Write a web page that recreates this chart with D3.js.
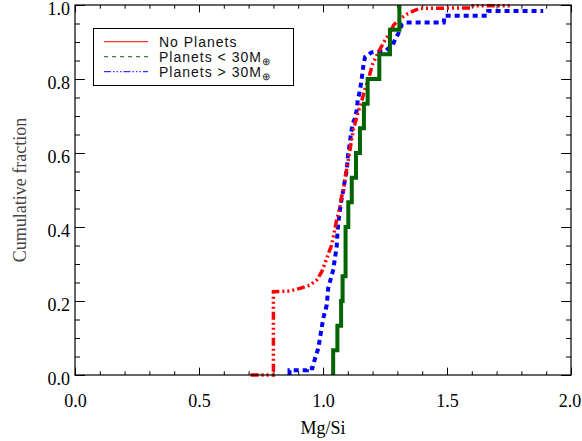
<!DOCTYPE html>
<html><head><meta charset="utf-8">
<script src="https://cdn.jsdelivr.net/npm/d3@7"></script>
<style>body{margin:0;background:#fff}</style>
</head><body><svg id="c" width="582" height="441"></svg>
<script>
// ---- data ----
const xTickValues = [0.0, 0.5, 1.0, 1.5, 2.0];
const xMinorTicks = [0.1,0.2,0.3,0.4,0.6,0.7,0.8,0.9,1.1,1.2,1.3,1.4,1.6,1.7,1.8,1.9];
const yTickValues = [0.0, 0.2, 0.4, 0.6, 0.8, 1.0];
const yMinorTicks = [0.05,0.1,0.15,0.25,0.3,0.35,0.45,0.5,0.55,0.65,0.7,0.75,0.85,0.9,0.95];
const legendLabels = ["No Planets", "Planets < 30M", "Planets > 30M"];
const xTitle = "Mg/Si";
const yTitle = "Cumulative fraction";

// No planets (red) – traced cumulative curve
const noPlanetsMgSi = [0.708,0.80,0.80,0.867,0.907,0.948,0.975,0.995,1.008,1.021,1.035,1.042,1.048,1.055,1.062,1.069,1.075,1.082,1.089,1.102,1.113,1.122,1.133,1.142,1.153,1.168,1.185,1.20,1.225,1.25,1.27,1.285,1.31,1.338,1.365,1.39,1.60,1.605,1.755];
const noPlanetsFrac = [0,0,0.225,0.227,0.234,0.243,0.257,0.279,0.302,0.327,0.351,0.374,0.395,0.419,0.437,0.458,0.482,0.497,0.532,0.581,0.626,0.662,0.689,0.712,0.733,0.77,0.805,0.84,0.875,0.905,0.925,0.946,0.962,0.975,0.984,0.991,0.992,0.998,0.998];

// Planets > 30 M_earth (blue) – traced cumulative curve
const bigPlanetsMgSi = [0.865,0.865,0.935,0.935,0.957,0.968,0.981,0.991,1.001,1.015,1.021,1.028,1.042,1.048,1.055,1.059,1.065,1.073,1.082,1.087,1.096,1.10,1.106,1.113,1.12,1.129,1.136,1.14,1.148,1.156,1.164,1.17,1.196,1.25,1.28,1.29,1.304,1.317,1.337,1.487,1.49,1.663,1.666,1.888];
const bigPlanetsFrac = [0,0.013,0.013,0.018,0.018,0.045,0.072,0.113,0.153,0.189,0.235,0.252,0.286,0.315,0.345,0.392,0.428,0.468,0.5,0.522,0.554,0.59,0.617,0.653,0.68,0.694,0.716,0.743,0.766,0.80,0.842,0.86,0.872,0.876,0.89,0.906,0.923,0.946,0.953,0.953,0.971,0.971,0.984,0.984];

// Planets < 30 M_earth (green) – individual sorted Mg/Si values (ECDF)
const smallPlanetsMgSi = [1.041,1.058,1.073,1.079,1.091,1.091,1.102,1.116,1.133,1.149,1.165,1.180,1.227,1.270,1.308];

const colors = ["#ff0000", "#006400", "#0000ff"];

// ---- layout ----
const svg = d3.select("#c");
const L = 75, R = 571, T = 5, B = 375;
const x = d3.scaleLinear().domain([0, 2]).range([L, R]);
const y = d3.scaleLinear().domain([0, 1]).range([B, T]);
const serif = "'Liberation Serif','Times New Roman',serif";

// axes: major + minor ticks on all four sides, inward
const majX = 7.4, minX = 3.7, majY = 9.9, minY = 5;
function styleAxis(g){ g.select(".domain").remove(); g.selectAll("line").attr("stroke","#000").attr("stroke-width",1); }

svg.append("g").attr("transform",`translate(0,${B})`)
  .call(d3.axisBottom(x).tickValues(xTickValues).tickSizeInner(-majX).tickSizeOuter(0).tickPadding(19).tickFormat(d3.format(".1f")))
  .call(styleAxis)
  .call(g=>g.selectAll("text").attr("font-family",serif).attr("font-size",18).attr("fill","#000")
    .attr("dx", d => d === 2 ? "-1.5px" : 0));
svg.append("g").attr("transform",`translate(0,${B})`)
  .call(d3.axisBottom(x).tickValues(xMinorTicks).tickSizeInner(-minX).tickSizeOuter(0).tickFormat(""))
  .call(styleAxis);
svg.append("g").attr("transform",`translate(0,${T})`)
  .call(d3.axisTop(x).tickValues(xTickValues).tickSizeInner(-majX).tickSizeOuter(0).tickFormat(""))
  .call(styleAxis);
svg.append("g").attr("transform",`translate(0,${T})`)
  .call(d3.axisTop(x).tickValues(xMinorTicks).tickSizeInner(-minX).tickSizeOuter(0).tickFormat(""))
  .call(styleAxis);

svg.append("g").attr("transform",`translate(${L},0)`)
  .call(d3.axisLeft(y).tickValues(yTickValues).tickSizeInner(-majY).tickSizeOuter(0).tickPadding(5).tickFormat(d3.format(".1f")))
  .call(styleAxis)
  .call(g=>g.selectAll("text").attr("font-family",serif).attr("font-size",18).attr("fill","#000").attr("dy","0.5em"));
svg.append("g").attr("transform",`translate(${L},0)`)
  .call(d3.axisLeft(y).tickValues(yMinorTicks).tickSizeInner(-minY).tickSizeOuter(0).tickFormat(""))
  .call(styleAxis);
svg.append("g").attr("transform",`translate(${R},0)`)
  .call(d3.axisRight(y).tickValues(yTickValues).tickSizeInner(-majY).tickSizeOuter(0).tickFormat(""))
  .call(styleAxis);
svg.append("g").attr("transform",`translate(${R},0)`)
  .call(d3.axisRight(y).tickValues(yMinorTicks).tickSizeInner(-minY).tickSizeOuter(0).tickFormat(""))
  .call(styleAxis);

// titles
svg.append("text").attr("x", (L+R)/2).attr("y", 434).attr("text-anchor","middle")
  .attr("font-family",serif).attr("font-size",18).attr("fill","#000").text(xTitle);
svg.append("text").attr("transform",`translate(26,${(T+B)/2}) rotate(-90)`).attr("text-anchor","middle")
  .attr("font-family",serif).attr("font-size",18).attr("fill","#444").text(yTitle);

// curves
const line = d3.line().x(d=>x(d[0])).y(d=>y(d[1]));
const redPts = noPlanetsMgSi.map((v,i)=>[v, noPlanetsFrac[i]]);
const bluePts = bigPlanetsMgSi.map((v,i)=>[v, bigPlanetsFrac[i]]);
const n = smallPlanetsMgSi.length;
const greenPts = smallPlanetsMgSi.map((v,i)=>[v, i/n]).concat([[smallPlanetsMgSi[n-1], 1]]);

const plot = svg.append("g");
plot.append("path").attr("d", line(bluePts)).attr("fill","none").attr("stroke",colors[2])
  .attr("stroke-width",4).attr("stroke-dasharray","5,4");
plot.append("path").attr("d", line(redPts)).attr("fill","none").attr("stroke",colors[0])
  .attr("stroke-width",3.5).attr("stroke-dasharray","8,3,2,3,2,3,2,3");
plot.append("path").attr("d", d3.line().x(d=>x(d[0])).y(d=>y(d[1])).curve(d3.curveStepBefore)(greenPts))
  .attr("fill","none").attr("stroke",colors[1]).attr("stroke-width",4);

// frame
svg.append("rect").attr("x",L).attr("y",T).attr("width",R-L).attr("height",B-T)
  .attr("fill","none").attr("stroke","#000").attr("stroke-width",1.2);

// legend
const lg = svg.append("g");
lg.append("rect").attr("x",93.5).attr("y",28.5).attr("width",200).attr("height",57)
  .attr("fill","#fff").attr("stroke","#000").attr("stroke-width",1);
const legDash = [null, "4,4", "7,2,1.5,2,1.5,2,1.5,2"];
const legColors = [colors[0], colors[1], colors[2]];
legendLabels.forEach((lab,i)=>{
  const yy = 41.7 + i*15;
  lg.append("line").attr("x1",104).attr("x2",148).attr("y1",yy).attr("y2",yy)
    .attr("stroke",legColors[i]).attr("stroke-width",1).attr("stroke-dasharray",legDash[i]);
  const t = lg.append("text").attr("x",159).attr("y",yy+5).attr("font-family","'Liberation Sans',Arial,sans-serif")
    .attr("font-size",14).attr("letter-spacing","1px").attr("fill","#111").text(lab);
  if (i>0) t.append("tspan").attr("font-size",10).attr("dy",3).text("⊕");
});
</script></body></html>
